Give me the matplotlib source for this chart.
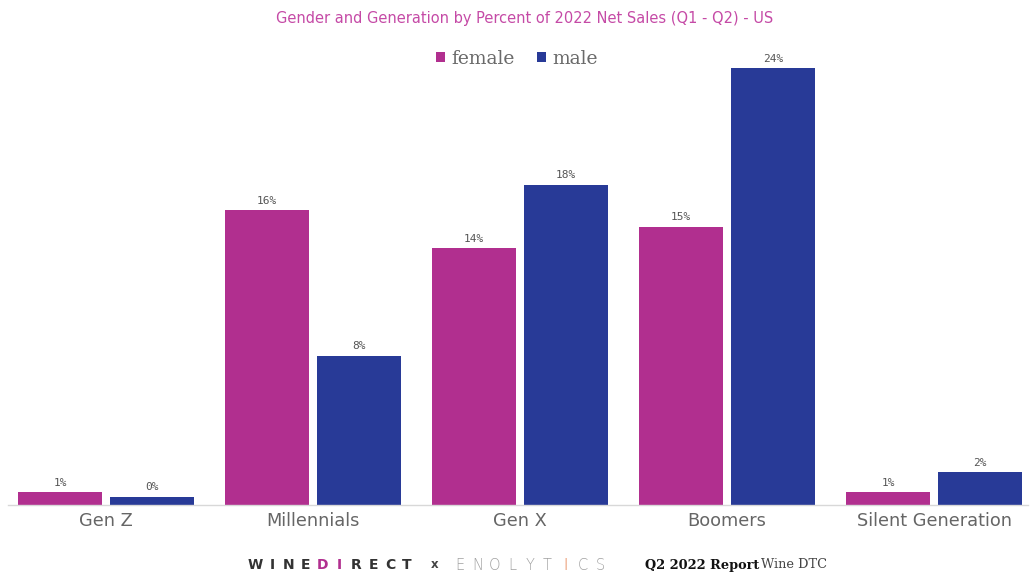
import numpy as np
import matplotlib
matplotlib.use("Agg")
from matplotlib import pyplot as plt

# data
generations = ["Gen Z", "Millennials", "Gen X", "Boomers", "Silent Generation"]
female = [0.7, 16.2, 14.1, 15.3, 0.7]
male = [0.45, 8.2, 17.6, 24.0, 1.8]
female_labels = ["1%", "16%", "14%", "15%", "1%"]
male_labels = ["0%", "8%", "18%", "24%", "2%"]

pink = "#b12f8f"
blue = "#283a97"
grey_txt = "#666666"

fig = plt.figure(figsize=(10.30, 5.73), dpi=100)
ax = fig.add_axes([8 / 1030, 1 - 505 / 573, 1020 / 1030, 445 / 573])

x = np.arange(len(generations))
w = 0.406
off = 0.222
bf = ax.bar(x - off, female, w, color=pink, label="female")
bm = ax.bar(x + off, male, w, color=blue, label="male")

# value labels
for bars, labs in ((bf, female_labels), (bm, male_labels)):
    for b, t in zip(bars, labs):
        ax.text(b.get_x() + b.get_width() / 2, b.get_height() + 0.25, t,
                ha="center", va="bottom", fontsize=8, color="#555555",
                family="DejaVu Sans Mono")

ax.set_xlim(-0.473, 4.454)
ax.set_ylim(0, 24.45)
ax.set_yticks([])
ax.set_xticks(x)
ax.set_xticklabels(generations, fontsize=12.8, color=grey_txt)
ax.tick_params(axis="x", length=0, pad=5)
for s in ["top", "right", "left"]:
    ax.spines[s].set_visible(False)
ax.spines["bottom"].set_color("#d8d8d8")
ax.spines["bottom"].set_linewidth(1)

# title + legend
fig.text(525 / 1030, 1 - 18 / 573, "Gender and Generation by Percent of 2022 Net Sales (Q1 - Q2) - US",
         ha="center", va="center", fontsize=10.5, color="#c54aa6")
leg = fig.legend(handles=[bf, bm], loc="center", bbox_to_anchor=(0.502, 1 - 59 / 573),
                 ncol=2, frameon=False, handlelength=0.45, handleheight=0.45,
                 handletextpad=0.35, columnspacing=1.2,
                 prop={"family": "DejaVu Serif", "size": 13.5})
for t in leg.get_texts():
    t.set_color("#6a6a6a")

# footer
fy = 1 - 565 / 573
wd = "WINEDIRECT"
for i, ch in enumerate(wd):
    col = pink if i in (4, 5) else "#333333"
    fig.text((255 + i * 16.9) / 1030, fy, ch, ha="center", va="center",
             fontsize=10, color=col, fontweight="bold")
fig.text(435 / 1030, fy, "x", ha="center", va="center", fontsize=8.5,
         color="#444444", fontweight="bold")
en = "ENOLYTICS"
for i, ch in enumerate(en):
    col = "#e0662a" if i == 6 else "#a0a0a0"
    fig.text((460 + i * 17.5) / 1030, fy, ch, ha="center", va="center",
             fontsize=10.5, color=col, family="DejaVu Sans", fontweight="light")
fig.text(645 / 1030, fy, "Q2 2022 Report", ha="left", va="center", fontsize=9.3,
         color="#111111", fontweight="bold", family="DejaVu Serif")
fig.text(761 / 1030, fy, "Wine DTC", ha="left", va="center", fontsize=9.3,
         color="#444444", family="DejaVu Serif")

fig.savefig("out.png", dpi=100, facecolor="white")
